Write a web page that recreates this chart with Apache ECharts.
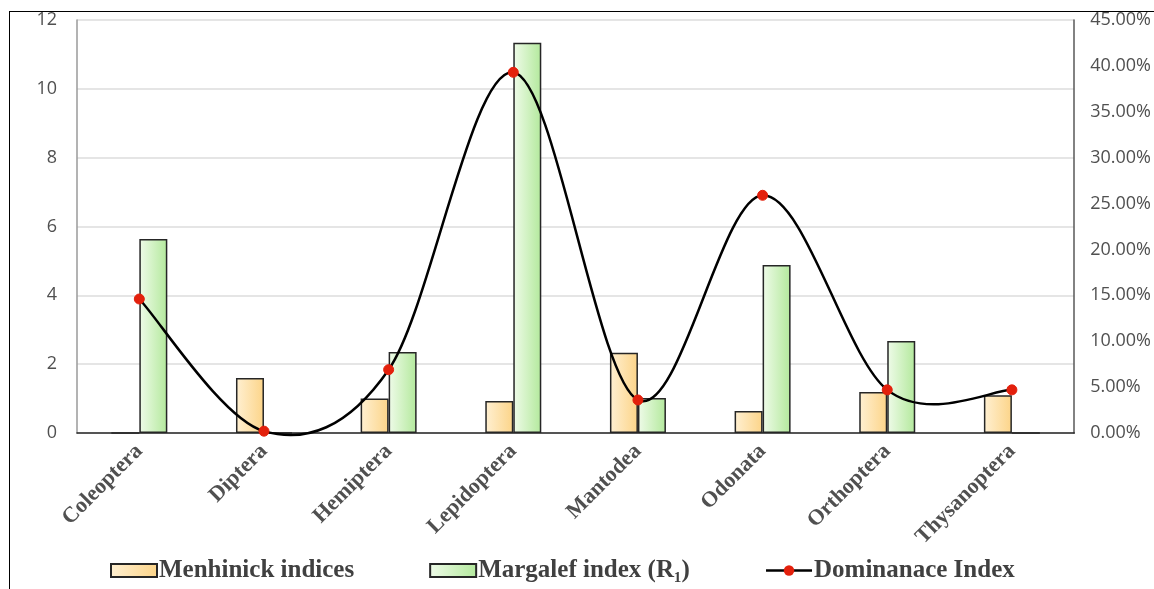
<!DOCTYPE html>
<html>
<head>
<meta charset="utf-8">
<script src="https://cdn.jsdelivr.net/npm/echarts@6/dist/echarts.min.js"></script>
<style>
html,body{margin:0;padding:0;background:#fff;}
#chart{width:1154px;height:589px;position:absolute;left:0;top:0;}
#frame{position:absolute;left:9px;top:11px;width:1200px;height:600px;border-left:1px solid #000;border-top:1px solid #000;pointer-events:none;}
</style>
</head>
<body>
<div id="chart"></div>
<div id="frame"></div>
<script>
const categories = ['Coleoptera','Diptera','Hemiptera','Lepidoptera','Mantodea','Odonata','Orthoptera','Thysanoptera'];
const menhinick = [0, 1.6, 1.0, 0.93, 2.33, 0.64, 1.19, 1.1];
const margalef = [5.64, 0, 2.35, 11.34, 1.02, 4.88, 2.67, 0];
const dominance = [14.6, 0.2, 6.9, 39.3, 3.6, 25.9, 4.7, 4.7];
const leftTicks = {min: 0, max: 12, interval: 2};
const rightTicks = {min: 0, max: 45, interval: 5};

const chart = echarts.init(document.getElementById('chart'));
const serif = "'Liberation Serif', 'Times New Roman', serif";
const sans = "'Open Sans', sans-serif";

// Excel-like smoothed curve (Catmull-Rom) through the points, positioned via the axes
function renderCurve(params, api) {
  if (params.dataIndex !== 0) return null;
  const pts = dominance.map((v, i) => api.coord([i, v]));
  const n = pts.length;
  let d = 'M' + pts[0][0] + ' ' + pts[0][1];
  for (let i = 0; i < n - 1; i++) {
    const p0 = pts[Math.max(i - 1, 0)], p1 = pts[i], p2 = pts[i + 1], p3 = pts[Math.min(i + 2, n - 1)];
    const c1x = p1[0] + (p2[0] - p0[0]) / 6, c1y = p1[1] + (p2[1] - p0[1]) / 6;
    const c2x = p2[0] - (p3[0] - p1[0]) / 6, c2y = p2[1] - (p3[1] - p1[1]) / 6;
    d += ' C' + c1x + ' ' + c1y + ' ' + c2x + ' ' + c2y + ' ' + p2[0] + ' ' + p2[1];
  }
  return {type: 'path', shape: {pathData: d}, style: {fill: 'none', stroke: '#000', lineWidth: 2.5}};
}

chart.setOption({
  animation: false,
  backgroundColor: '#fff',
  grid: {left: 77, right: 79, top: 20, bottom: 156, containLabel: false},
  legend: {
    top: 553,
    left: 105,
    itemGap: 75,
    itemWidth: 46,
    itemHeight: 13,
    textStyle: {fontFamily: serif, fontWeight: 'bold', fontSize: 25, color: '#404040', padding: [0,0,0,-3]},
    data: [
      {name: 'Menhinick indices', icon: 'rect'},
      {name: 'Margalef index (R\u2081)', icon: 'rect'},
      {name: 'Dominanace Index', lineStyle: {color: '#000', width: 2.5, opacity: 1}}
    ]
  },
  xAxis: {
    type: 'category',
    data: categories,
    axisLine: {lineStyle: {color: '#262626', width: 1.5}},
    axisTick: {show: false},
    axisLabel: {interval: 0, rotate: 45, margin: 15, fontFamily: serif, fontWeight: 'bold', fontSize: 22, color: '#505050'}
  },
  yAxis: [
    {
      type: 'value', min: leftTicks.min, max: leftTicks.max, interval: leftTicks.interval,
      axisLine: {show: true, lineStyle: {color: '#9a9a9a', width: 1.5}},
      axisTick: {show: false},
      splitLine: {lineStyle: {color: '#dcdcdc', width: 1.5}},
      axisLabel: {fontFamily: sans, fontSize: 18, color: '#505050', margin: 20}
    },
    {
      type: 'value', min: rightTicks.min, max: rightTicks.max, interval: rightTicks.interval,
      position: 'right',
      axisLine: {show: true, lineStyle: {color: '#595959', width: 1.5}},
      axisTick: {show: false},
      splitLine: {show: false},
      axisLabel: {fontFamily: sans, fontSize: 18, color: '#505050', margin: 16,
        formatter: v => v.toFixed(2) + '%'}
    }
  ],
  series: [
    {
      name: 'Menhinick indices', type: 'bar', data: menhinick, barWidth: 28, barGap: '0%',
      itemStyle: {
        color: new echarts.graphic.LinearGradient(0,0,1,0,[{offset:0,color:'#fff0d2'},{offset:1,color:'#fcd488'}]),
        borderColor: '#262626', borderWidth: 1.5
      }
    },
    {
      name: 'Margalef index (R\u2081)', type: 'bar', data: margalef, barWidth: 28, barGap: '0%',
      itemStyle: {
        color: new echarts.graphic.LinearGradient(0,0,1,0,[{offset:0,color:'#effbe9'},{offset:1,color:'#b3e99c'}]),
        borderColor: '#262626', borderWidth: 1.5
      }
    },
    {
      name: 'Dominanace Index', type: 'line', yAxisIndex: 1, data: dominance,
      symbol: 'circle', symbolSize: 10, z: 6,
      lineStyle: {color: '#000', width: 2.5, opacity: 0},
      itemStyle: {color: '#e3200c', borderColor: '#e3200c'}
    },
    {
      name: 'curve', type: 'custom', yAxisIndex: 1, data: dominance, clip: false, z: 5,
      renderItem: renderCurve, silent: true
    }
  ]
});
</script>
</body>
</html>
